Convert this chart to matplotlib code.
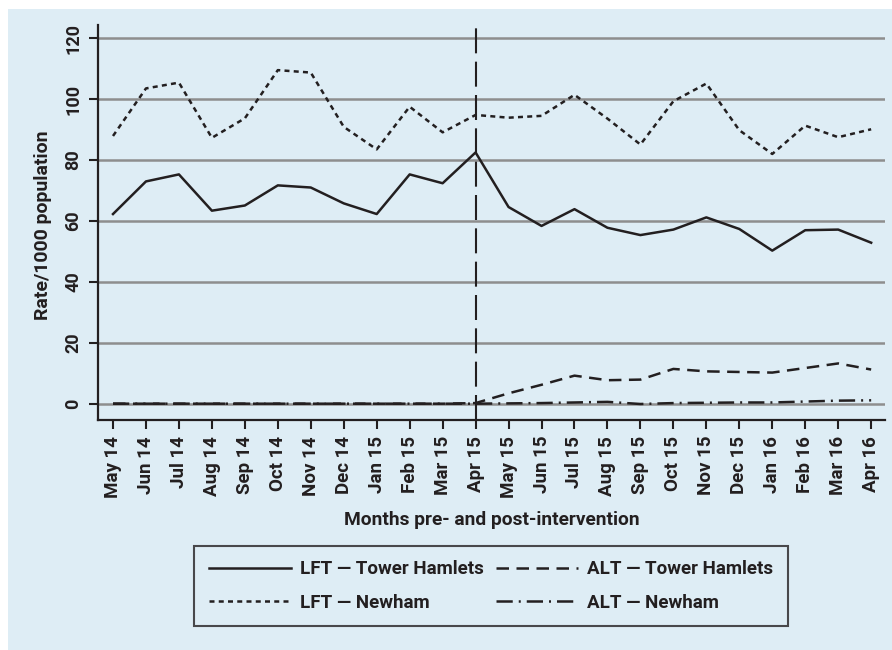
import matplotlib
matplotlib.use("Agg")
import matplotlib.pyplot as plt
from matplotlib.patches import Rectangle

# --- dados (taxa/1000 habitantes) ---
MESES = ["May 14", "Jun 14", "Jul 14", "Aug 14", "Sep 14", "Oct 14", "Nov 14",
         "Dec 14", "Jan 15", "Feb 15", "Mar 15", "Apr 15", "May 15", "Jun 15",
         "Jul 15", "Aug 15", "Sep 15", "Oct 15", "Nov 15", "Dec 15", "Jan 16",
         "Feb 16", "Mar 16", "Apr 16"]
LFT_TOWER = [62.3, 73.0, 75.3, 63.4, 65.1, 71.7, 71.0, 65.8, 62.3, 75.3, 72.4, 82.5,
             64.6, 58.4, 63.9, 57.8, 55.4, 57.2, 61.2, 57.4, 50.3, 57.0, 57.2, 52.9]
LFT_NEWHAM = [87.9, 103.5, 105.4, 87.3, 93.7, 109.5, 108.7, 90.9, 83.5, 97.5, 89.1, 94.8,
              93.9, 94.5, 101.4, 93.6, 85.1, 99.3, 105.1, 89.8, 82.0, 91.3, 87.5, 90.1]
ALT_TOWER = [0.1, 0.1, 0.1, 0.1, 0.1, 0.1, 0.1, 0.1, 0.1, 0.1, 0.1, 0.3,
             3.5, 6.3, 9.3, 7.8, 8.0, 11.5, 10.7, 10.5, 10.3, 11.8, 13.3, 11.3]
ALT_NEWHAM = [0.1, 0.1, 0.1, 0.1, 0.1, 0.1, 0.1, 0.1, 0.1, 0.1, 0.1, 0.1,
              0.2, 0.3, 0.5, 0.7, 0.0, 0.3, 0.4, 0.5, 0.5, 0.8, 1.1, 1.2]
Y_TICKS = [0, 20, 40, 60, 80, 100, 120]
INTERVENCAO = "Apr 15"

FUNDO = "#deedf5"
PRETO = "#231f20"
CINZA = "#8e8e8e"

plt.rcParams["font.family"] = ["Roboto", "DejaVu Sans"]
plt.rcParams["font.weight"] = "bold"

fig = plt.figure(figsize=(8.92, 6.5), dpi=100, facecolor="white")
fig.patches.append(Rectangle((8 / 892, 0), 1, 1 - 9 / 650, transform=fig.transFigure,
                             facecolor=FUNDO, edgecolor="none", zorder=-10))
ax = fig.add_axes([98 / 892, 1 - 420 / 650, (885 - 98) / 892, (420 - 25) / 650])
ax.set_facecolor("none")

x = list(range(len(MESES)))
lw = 1.8
ax.plot(x, LFT_TOWER, color=PRETO, lw=lw, ls="-", label="LFT — Tower Hamlets", zorder=3)
ax.plot(x, LFT_NEWHAM, color=PRETO, lw=lw, ls=(0, (2, 1.7)), label="LFT — Newham", zorder=3)
ax.plot(x, ALT_TOWER, color=PRETO, lw=lw, ls=(0, (5, 3)), label="ALT — Tower Hamlets", zorder=3)
ax.plot(x, ALT_NEWHAM, color=PRETO, lw=lw, ls=(0, (6.5, 2.4, 0.8, 2.4)),
        label="ALT — Newham", zorder=3)

# linha da intervenção
ax.axvline(MESES.index(INTERVENCAO), color=PRETO, lw=1.5, ls=(0, (12, 4)), zorder=4)

for v in Y_TICKS:
    ax.axhline(v, color=CINZA, lw=1.8, zorder=1)

ax.set_xlim(-0.455, 23.42)
ax.set_ylim(-5.25, 124.3)
ax.set_xticks(x)
ax.set_xticklabels(MESES, rotation=90, fontsize=13.5, fontweight="bold")
ax.set_yticks(Y_TICKS)
ax.set_yticklabels([str(v) for v in Y_TICKS], rotation=90, va="center",
                   fontsize=13, fontweight="bold")
ax.tick_params(axis="both", direction="out", length=6.5, width=1.5, color=PRETO,
               labelcolor=PRETO, pad=5)
for s in ["top", "right"]:
    ax.spines[s].set_visible(False)
for s in ["left", "bottom"]:
    ax.spines[s].set_linewidth(1.6)
    ax.spines[s].set_color(PRETO)

ax.set_ylabel("Rate/1000 population", fontsize=14, fontweight="bold", color=PRETO)
ax.yaxis.set_label_coords(-0.0699, 0.494)
ax.yaxis.label.set_va("center")
ax.set_xlabel("Months pre- and post-intervention", fontsize=13.8, fontweight="bold",
              color=PRETO)
ax.xaxis.set_label_coords(0.5006, -0.253)
ax.xaxis.label.set_va("center")

leg = fig.legend(ncol=2, loc="center", bbox_to_anchor=(491 / 892, 1 - 586 / 650),
                 fontsize=13.5, frameon=True, fancybox=False, handlelength=4.4,
                 handletextpad=0.5, columnspacing=0.6, labelspacing=0.8,
                 borderpad=0.75, borderaxespad=0)
leg.get_frame().set_edgecolor(PRETO)
leg.get_frame().set_linewidth(1.5)
leg.get_frame().set_facecolor(FUNDO)
for t in leg.get_texts():
    t.set_color(PRETO)
    t.set_fontweight("bold")

fig.savefig("out.png", dpi=100, facecolor="white")
